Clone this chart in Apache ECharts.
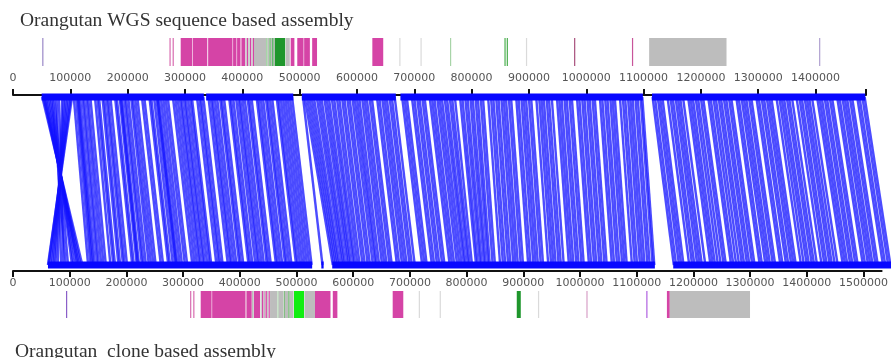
<!DOCTYPE html>
<html><head><meta charset="utf-8">
<script src="https://cdn.jsdelivr.net/npm/echarts@6/dist/echarts.min.js"></script>
<style>html,body{margin:0;padding:0;background:#fff}#c{width:891px;height:358px}</style>
</head><body><div id="c"></div><script>
// ---- data (positions in kb) ----
const topTitle = 'Orangutan WGS sequence based assembly';
const bottomTitle = 'Orangutan  clone based assembly';
const topLength = 1488;
const bottomLength = 1532;
const topTickLabels = [0,100,200,300,400,500,600,700,800,900,1000,1100,1200,1300,1400];
const topTickMarks = [0,100,200,300,400,500,600,700,800,900,1000,1100,1200,1300,1400,1488];
const bottomTickLabels = [0,100,200,300,400,500,600,700,800,900,1000,1100,1200,1300,1400,1500];

const palette = {
  M: '#d544a6', G: '#bdbdbd', DG: '#1f962c', BG: '#12ee12',
  PU: '#9a88c8', PU2: '#8a5ec8', PK: '#d86cb0', LG: '#dadada',
  PG: '#a8d4a8', GN: '#4caf50', MR: '#a8507c', MP: '#c8559a',
  LV: '#b0a0d0', PP: '#d8a0c8', VI: '#b060e0', LGN: '#7fc07f', MGN: '#4aaa4a'
};

const topFeatures = [
  [51,51.8,'PU'],[273,274,'PK'],[278.5,279.5,'PK'],
  [292.6,312.5,'M'],[313.5,339,'M'],[340.5,383,'M'],[384,390,'M'],[391,397,'M'],[398.5,405,'M'],
  [405.5,407.5,'G'],[408,410,'M'],[410.5,413,'G'],[413.5,415,'M'],[416,418,'G'],[418.5,420,'M'],
  [420.5,441.5,'G'],[442,444,'LGN'],[444.5,447,'G'],[447.5,449.5,'MGN'],[450,452,'G'],[452.5,454.5,'DG'],
  [455,456.5,'G'],[457,475,'DG'],[476,483,'G'],[484.5,491,'M'],[496,507,'M'],[508,518,'M'],[522,530.5,'M'],
  [627,646,'M'],[674,675,'LG'],[711,712,'LG'],[762.5,763.5,'PG'],[857.5,859,'GN'],[861.5,863,'GN'],
  [895,896,'LG'],[979,981,'MR'],[1080,1082,'MP'],[1110,1245,'G'],[1406.5,1408,'LV']
];
const bottomFeatures = [
  [92.5,94,'PU2'],[309,310.5,'PK'],[314.5,316,'PK'],
  [327.5,346.5,'M'],[347.5,405,'M'],[405.5,407,'PK'],[408,416.5,'M'],[417,420,'G'],[420.5,431,'M'],
  [432,434,'G'],[434.5,437,'M'],[437.5,440,'G'],[440.5,443,'M'],[443.5,445.5,'G'],[446,448,'M'],
  [448.5,461,'G'],[461.5,463,'PG'],[463.5,472,'G'],[472.5,474,'LGN'],[474.5,480,'G'],[480.5,482,'MGN'],
  [482.5,489.5,'G'],[490.3,507.8,'BG'],[508.5,527,'G'],[527,554,'M'],[558,566,'M'],
  [662.5,681,'M'],[708,709.5,'LG'],[744.5,746,'LG'],[879,886,'DG'],[916,917.5,'LG'],
  [1000.5,1002,'PP'],[1105,1106.5,'VI'],[1141,1146,'M'],[1146,1286,'G']
];
const topBlocks = [[50,333],[337,489],[504,668],[676,1099],[1115,1487]];
const bottomBlocks = [[61,522],[538,542],[557,1120],[1152,1532]];

const links = [
[51,121],[53,118],[55,115],[57,113],[60,110],[63,106],[66,103],[69,92],[72,96],[76,84],[80,88],
[86,78],[89,74],[92,71],[95,68],[98,65],[101,62],[103,61],
[106,131],[110,135],[113,138],[114,140],[117,143],[121,147],[124,150],[128,154],[131,158],[135,162],[143,170],[147,175],[150,178],[156,184],[159,187],[163,192],[166,195],[170,199],[178,208],[181,211],[186,216],[188,218],[190,220],[194,225],[197,228],[201,232],[206,237],[209,241],[213,245],[217,249],[225,258],[229,262],[238,271],[241,274],[246,279],[250,283],[252,285],[254,287],[258,291],[262,295],[266,300],[270,304],[279,313],[283,317],[287,321],
[291,325],[294,328],[298,332],[301,335],[305,339],[309,343],[312,346],[321,355],[325,359],[328,362],[332,366],[341,375],[345,379],[348,382],[352,386],[356,390],[361,395],[364,398],[368,402],[377,411],[380,414],[384,418],[389,423],[393,427],[396,430],[400,434],[404,438],[409,443],[412,446],[416,450],[425,459],[428,462],[432,466],[436,470],[441,475],[444,478],[448,482],[452,486],[460,494],[463,497],[467,501],[471,505],[475,509],[479,513],[483,517],[487,521],
[506,540],[509,558],[513,561],[517,564],[521,567],[525,570],[530,574],[534,577],[538,580],[543,584],[547,587],[551,590],[556,594],[560,597],[565,601],[569,605],[574,610],[578,614],[583,619],[587,623],[592,628],[596,632],
[600,635],[604,639],[609,644],[613,648],[617,652],[622,657],[626,661],[635,670],[639,674],[644,679],[648,683],[652,687],[657,692],[661,696],[666,701],[679,714],[683,718],[687,722],[696,731],[700,735],[705,740],[709,744],[714,749],[718,753],[727,762],[731,766],[735,770],[740,775],[744,779],[748,783],
[753,787],[757,790],[762,794],[766,797],[771,801],[780,808],[784,811],[789,815],[793,818],[798,822],[802,825],[807,829],[811,832],[816,837],[820,841],[829,850],[834,855],[838,859],[843,864],[847,868],
[852,873],[856,877],[860,881],[865,886],[869,890],[878,899],[882,903],[887,908],[891,912],[895,916],[900,921],[904,925],[913,934],[918,939],[922,943],[926,947],[931,952],[935,956],[940,961],[949,970],[953,974],[957,978],[962,983],[966,987],[971,992],[975,996],[984,1005],[988,1009],[993,1014],[997,1018],[1002,1023],[1006,1027],[1011,1032],[1015,1036],[1024,1045],[1028,1049],[1033,1054],[1037,1058],[1042,1063],[1046,1067],[1050,1071],[1059,1080],[1064,1085],[1068,1089],[1073,1094],[1077,1098],[1081,1102],[1086,1107],[1090,1111],[1095,1116],[1098,1119],
[1116,1153],[1120,1157],[1125,1162],[1129,1166],[1133,1170],[1142,1180],[1147,1185],[1151,1189],[1156,1194],[1160,1198],[1164,1202],[1169,1208],[1178,1217],[1182,1221],[1186,1225],[1191,1230],[1195,1235],[1200,1240],[1204,1244],[1213,1253],[1217,1257],[1222,1262],[1226,1267],[1231,1272],[1235,1276],[1240,1281],[1244,1285],
[1249,1290],[1253,1294],[1262,1303],[1266,1307],[1271,1313],[1275,1317],[1279,1321],[1284,1326],[1288,1330],[1297,1339],[1301,1343],[1306,1349],[1310,1353],[1315,1358],[1319,1362],[1323,1366],[1332,1375],[1337,1380],[1341,1385],[1345,1389],[1350,1394],[1354,1398],[1359,1403],[1367,1411],[1372,1416],[1376,1420],[1381,1425],[1385,1429],[1389,1434],[1394,1439],[1403,1448],[1407,1452],[1411,1456],[1416,1461],[1420,1465],[1425,1470],[1429,1474],[1438,1483],[1442,1487],[1447,1492],[1451,1496],[1455,1500],[1460,1505],[1464,1509],[1473,1518],[1477,1522],[1482,1527],[1486,1531]
];

// ---- chart ----
const chart = echarts.init(document.getElementById('c'), null, {renderer: 'canvas'});
const LEFT = 13;
const hiddenX = (max, gi) => ({type:'value', gridIndex: gi, min: 0, max: max, show: false});
const hiddenY = gi => ({type:'value', gridIndex: gi, min: 0, max: 1, show: false});
const labelFmt = v => String(Math.round(v * 1000));
const axisCommon = {
  axisLine: {lineStyle: {color: '#111', width: 2}},
  splitLine: {show: false}
};

function featureItem(params, api) {
  const a = api.coord([api.value(0), 0]);
  const b = api.coord([api.value(1), 1]);
  return {type: 'rect', shape: {x: a[0], y: b[1], width: Math.max(b[0] - a[0], 1.2), height: a[1] - b[1]},
    style: {fill: api.visual('color')}};
}
function bandItem(level) {
  return function (params, api) {
    const a = api.coord([api.value(0), level]);
    const b = api.coord([api.value(1), level]);
    return {type: 'rect', shape: {x: a[0], y: a[1] - 3.5, width: b[0] - a[0], height: 7}, style: {fill: '#0808ff'}};
  };
}
function linkItem(params, api) {
  const a = api.coord([api.value(0), 1]);
  const b = api.coord([api.value(1), 0]);
  return {type: 'line', shape: {x1: a[0], y1: a[1], x2: b[0], y2: b[1]},
    style: {stroke: '#1010ff', lineWidth: 2.4, opacity: 0.75}};
}
const featData = list => list.map(f => ({value: [f[0], f[1]], itemStyle: {color: palette[f[2]]}}));
const titleStyle = {fontFamily: 'Liberation Serif', fontSize: 19.5, fontWeight: 'normal', color: '#333'};

chart.setOption({
  animation: false,
  backgroundColor: '#fff',
  title: [
    {text: topTitle, left: 20, top: 11, padding: 0, textStyle: titleStyle},
    {text: bottomTitle, left: 15, top: 342, padding: 0, textStyle: titleStyle}
  ],
  grid: [
    {left: LEFT, width: 878, top: 38, height: 28},
    {left: LEFT, width: 853, top: 93, height: 2},
    {left: LEFT, width: 878, top: 97, height: 168},
    {left: LEFT, width: 878, top: 269, height: 2},
    {left: LEFT, width: 878, top: 291, height: 27}
  ],
  xAxis: [
    hiddenX(bottomLength, 0),
    Object.assign({type: 'value', gridIndex: 1, position: 'top', min: 0, max: topLength, interval: 100,
      axisTick: {show: true, customValues: topTickMarks, length: 6, lineStyle: {color: '#111', width: 2}},
      axisLabel: {customValues: topTickLabels, formatter: labelFmt, color: '#555', fontSize: 11, fontFamily: 'DejaVu Sans', margin: 9}
    }, axisCommon),
    hiddenX(bottomLength, 2),
    Object.assign({type: 'value', gridIndex: 3, position: 'bottom', min: 0, max: bottomLength, interval: 100,
      axisTick: {show: true, customValues: bottomTickLabels, length: 6, lineStyle: {color: '#111', width: 2}},
      axisLabel: {customValues: bottomTickLabels, formatter: labelFmt, color: '#555', fontSize: 11, fontFamily: 'DejaVu Sans', margin: 7}
    }, axisCommon),
    hiddenX(bottomLength, 4)
  ],
  yAxis: [hiddenY(0), hiddenY(1), hiddenY(2), hiddenY(3), hiddenY(4)],
  series: [
    {type: 'custom', xAxisIndex: 0, yAxisIndex: 0, renderItem: featureItem, data: featData(topFeatures)},
    {type: 'custom', xAxisIndex: 2, yAxisIndex: 2, renderItem: linkItem, data: links, z: 2},
    {type: 'custom', xAxisIndex: 2, yAxisIndex: 2, renderItem: bandItem(1), data: topBlocks, z: 3},
    {type: 'custom', xAxisIndex: 2, yAxisIndex: 2, renderItem: bandItem(0), data: bottomBlocks, z: 3},
    {type: 'custom', xAxisIndex: 4, yAxisIndex: 4, renderItem: featureItem, data: featData(bottomFeatures)}
  ]
});
</script></body></html>
